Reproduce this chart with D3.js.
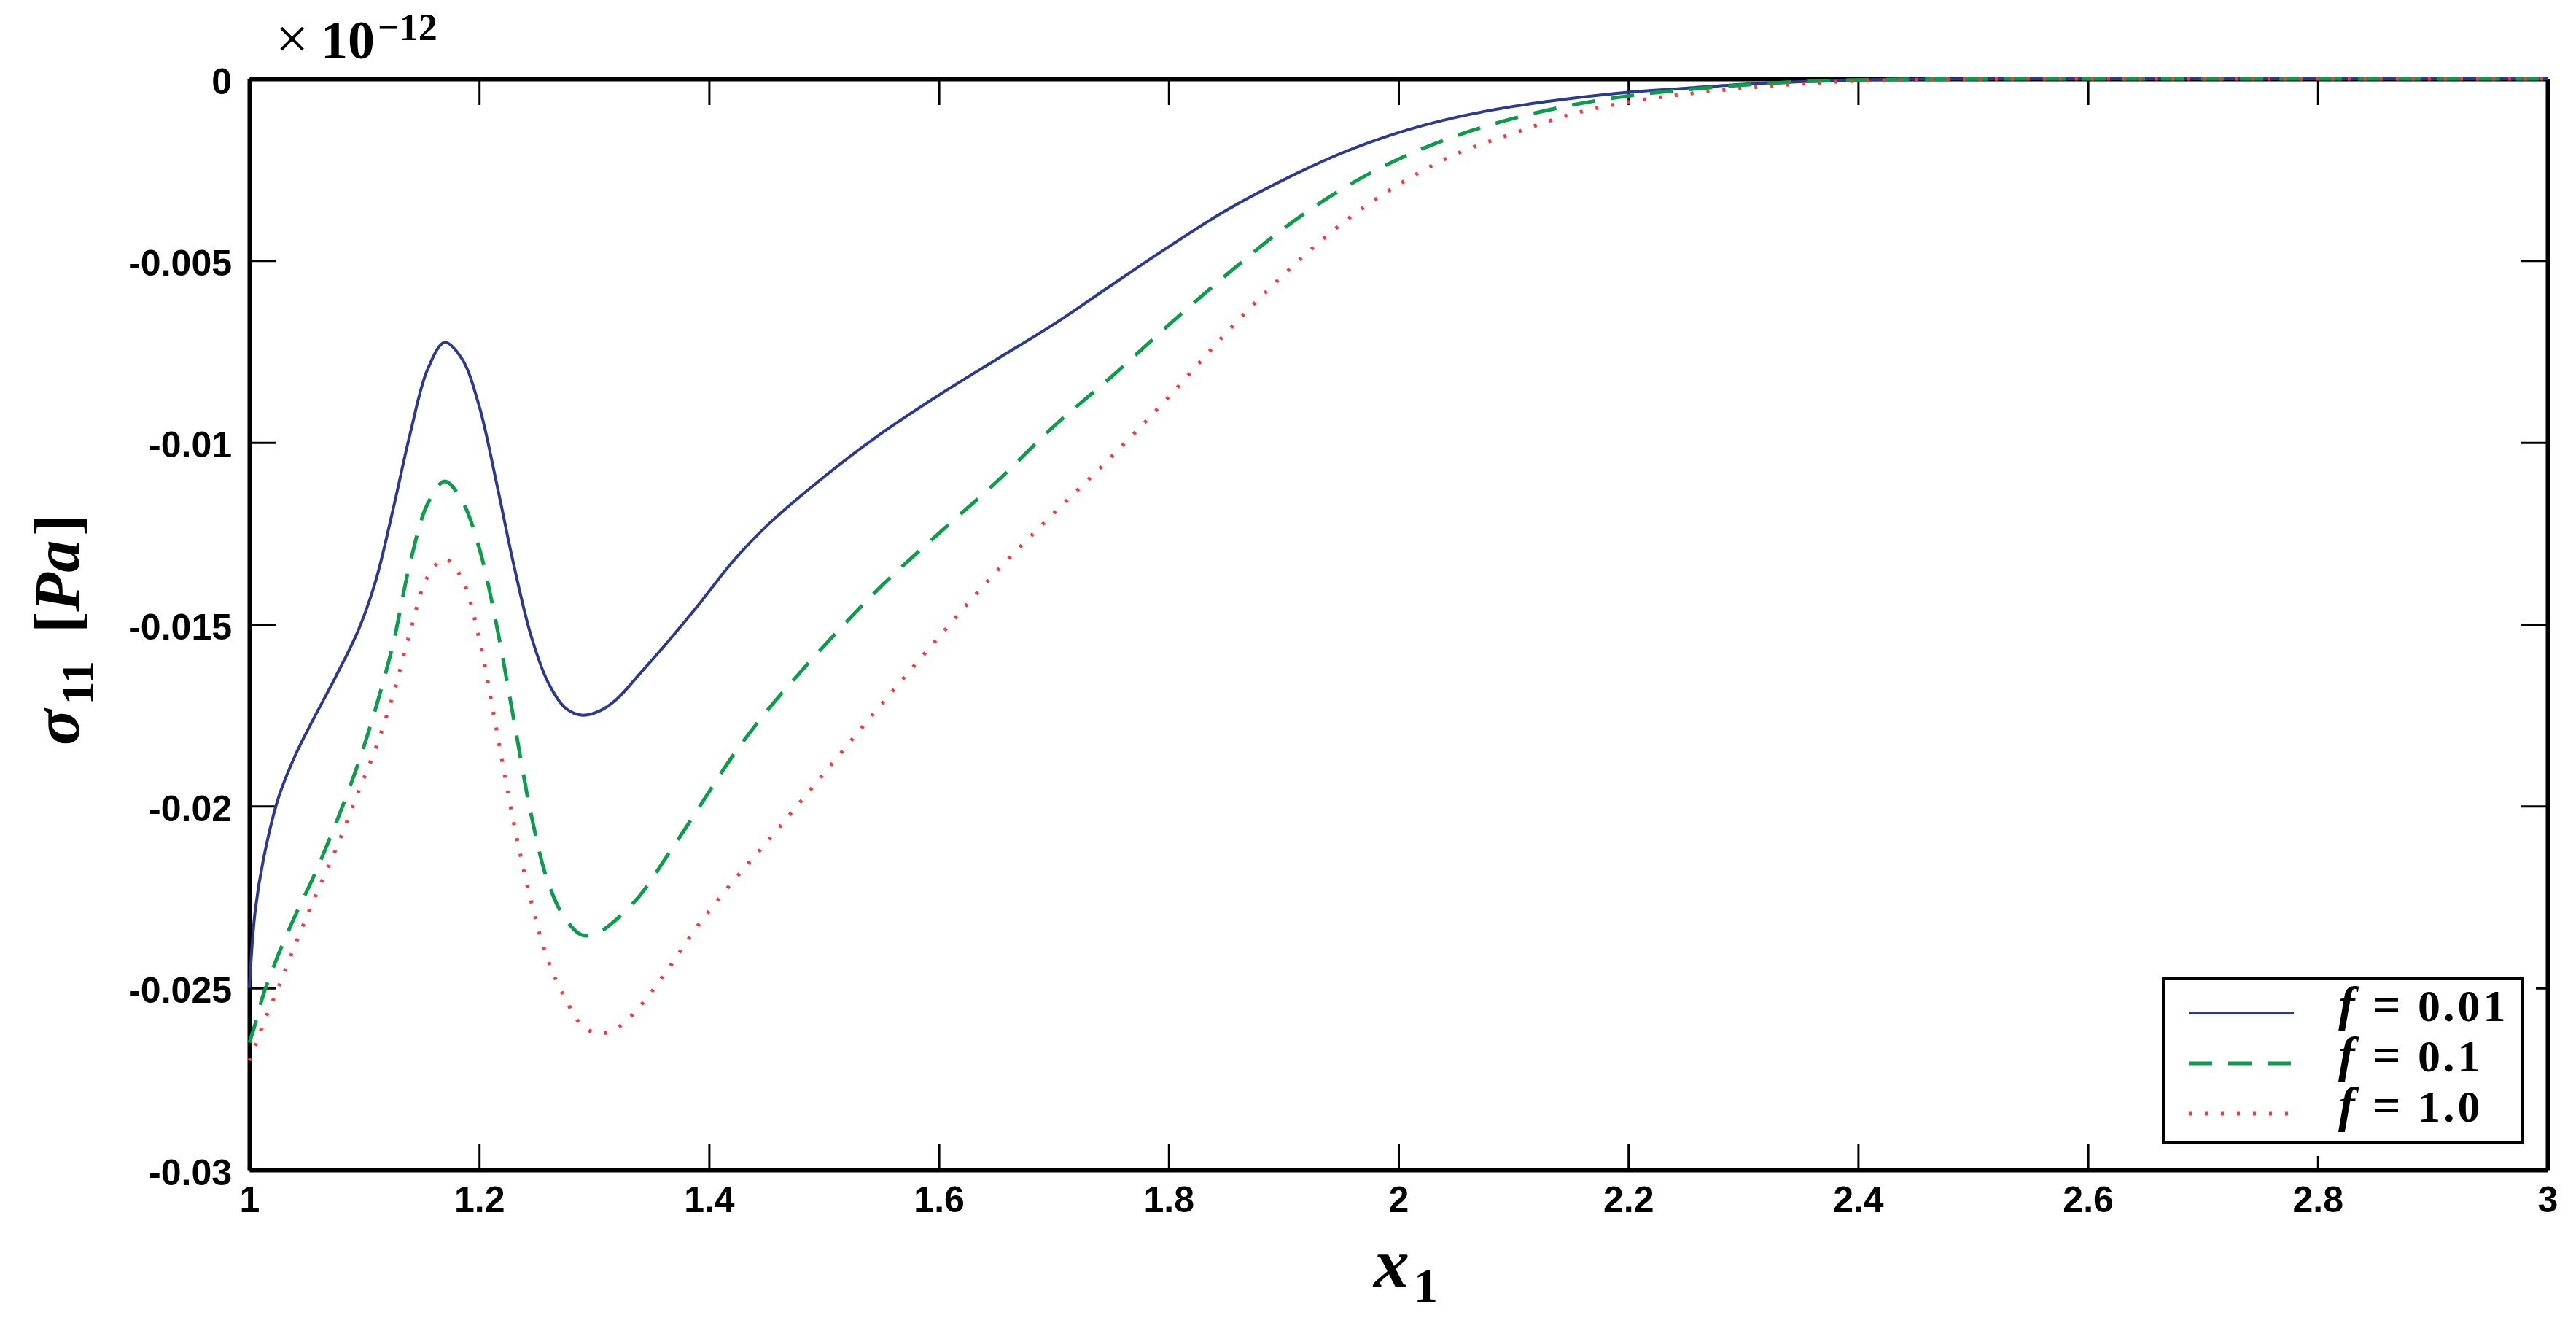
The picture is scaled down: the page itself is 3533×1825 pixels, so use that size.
<!DOCTYPE html>
<html>
<head>
<meta charset="utf-8">
<script src="https://cdn.jsdelivr.net/npm/d3@7/dist/d3.min.js"></script>
<style>
  html, body { margin: 0; padding: 0; background: #fff; }
  svg { display: block; }
</style>
</head>
<body>
<svg id="chart"></svg>
<script>
// x1 sample positions (shared by all three curves)
const xValues = [1.000, 1.005, 1.012, 1.025, 1.04, 1.055, 1.075, 1.095, 1.11, 1.125, 1.14, 1.155, 1.17, 1.185,
  1.2, 1.215, 1.23, 1.245, 1.26, 1.275, 1.29, 1.305, 1.32, 1.34, 1.365, 1.39, 1.42, 1.45, 1.5, 1.55, 1.6,
  1.65, 1.7, 1.75, 1.8, 1.85, 1.9, 1.95, 2.0, 2.05, 2.1, 2.15, 2.2, 2.25, 2.3, 2.35, 2.4, 2.5, 2.6, 2.8, 3.0];

// sigma_11 values, in units of 1e-12 Pa as printed on the axis
const sigmaF001 = [-0.0250, -0.0229, -0.0215, -0.0198, -0.0186, -0.01765, -0.01645, -0.01515, -0.0138, -0.01185,
  -0.00975, -0.0080, -0.00725, -0.0077, -0.0090, -0.0111, -0.01335, -0.0153, -0.0166, -0.0173, -0.0175, -0.01738,
  -0.01705, -0.01635, -0.01545, -0.0145, -0.0133, -0.0123, -0.01095, -0.00975, -0.0087, -0.00772, -0.00675,
  -0.00568, -0.00462, -0.00362, -0.00278, -0.00205, -0.00148, -0.00106, -0.00076, -0.00054, -0.00037, -0.00026,
  -0.00015, -0.00008, -0.00003, -0.000005, 0, 0, 0];

const sigmaF01 = [-0.0265, -0.0260, -0.0252, -0.0241, -0.0230, -0.0220, -0.0205, -0.0188, -0.0173, -0.01555,
  -0.0133, -0.0117, -0.01107, -0.0116, -0.0129, -0.0150, -0.0176, -0.0202, -0.0221, -0.0231, -0.02355, -0.02345,
  -0.0231, -0.02245, -0.0213, -0.0201, -0.01865, -0.0174, -0.0156, -0.01395, -0.0125, -0.01109, -0.00956,
  -0.0082, -0.00677, -0.0054, -0.00412, -0.00305, -0.00221, -0.00157, -0.00109, -0.00073, -0.00047, -0.0003,
  -0.00017, -0.00008, -0.00003, -0.000005, 0, 0, 0];

const sigmaF10 = [-0.0270, -0.0266, -0.0260, -0.0250, -0.0238, -0.02265, -0.0212, -0.0196, -0.0184, -0.01695,
  -0.0152, -0.0137, -0.0132, -0.01375, -0.0154, -0.0179, -0.02045, -0.0226, -0.02425, -0.0253, -0.02605, -0.02625,
  -0.0261, -0.0255, -0.02445, -0.0233, -0.0221, -0.0210, -0.0191, -0.0172, -0.01535, -0.01355, -0.01195,
  -0.0104, -0.00875, -0.00699, -0.00539, -0.0040, -0.00291, -0.00207, -0.0015, -0.00098, -0.00064, -0.00042,
  -0.00026, -0.00014, -0.00006, -0.00001, 0, 0, 0];

const seriesLabels = ["0.01", "0.1", "1.0"];
const xTicks = [1, 1.2, 1.4, 1.6, 1.8, 2, 2.2, 2.4, 2.6, 2.8, 3];
const yTicks = [0, -0.005, -0.01, -0.015, -0.02, -0.025, -0.03];

const width = 3533, height = 1825;
const margin = { top: 108, right: 39, bottom: 221, left: 342 };
const plotW = width - margin.left - margin.right;
const plotH = height - margin.top - margin.bottom;

const series = [
  { label: seriesLabels[0], values: sigmaF001, color: "#2b3a8f", width: 4, dash: null },
  { label: seriesLabels[1], values: sigmaF01, color: "#0c9c4c", width: 5, dash: "32,22" },
  { label: seriesLabels[2], values: sigmaF10, color: "#f23c3c", width: 5, dash: "4,18" }
];

const svg = d3.select("#chart")
  .attr("width", width)
  .attr("height", height)
  .style("font-family", "'Liberation Sans', Arial, sans-serif");

svg.append("rect").attr("width", width).attr("height", height).attr("fill", "#fff");

const g = svg.append("g").attr("transform", `translate(${margin.left},${margin.top})`);

const x = d3.scaleLinear().domain([1, 3]).range([0, plotW]);
const y = d3.scaleLinear().domain([-0.03, 0]).range([plotH, 0]);

const fmt = d => String(+d.toFixed(3));

// Axes, MATLAB style: ticks inside on all four sides
function styleAxis(sel) {
  sel.select(".domain").attr("stroke", "#000").attr("stroke-width", 6);
  sel.selectAll(".tick line").attr("stroke", "#000").attr("stroke-width", 3);
  sel.selectAll(".tick text")
    .attr("fill", "#000")
    .style("font-size", "50px")
    .style("font-weight", "bold");
}

g.append("g")
  .attr("transform", `translate(0,${plotH})`)
  .call(d3.axisBottom(x).tickValues(xTicks).tickFormat(fmt).tickSizeInner(-36).tickSizeOuter(0).tickPadding(22))
  .call(styleAxis)
  .selectAll(".tick text").attr("dy", "0.71em");

g.append("g")
  .call(d3.axisTop(x).tickValues(xTicks).tickFormat("").tickSizeInner(-36).tickSizeOuter(0))
  .call(styleAxis);

g.append("g")
  .call(d3.axisLeft(y).tickValues(yTicks).tickFormat(fmt).tickSizeInner(-36).tickSizeOuter(0).tickPadding(24))
  .call(styleAxis)
  .selectAll(".tick text").attr("dy", "0.4em");

g.append("g")
  .attr("transform", `translate(${plotW},0)`)
  .call(d3.axisRight(y).tickValues(yTicks).tickFormat("").tickSizeInner(-36).tickSizeOuter(0))
  .call(styleAxis);

// Curves
const line = d3.line()
  .x((d, i) => x(xValues[i]))
  .y(d => y(Math.min(d, 0)))
  .curve(d3.curveCatmullRom.alpha(0.5));

series.forEach(s => {
  g.append("path")
    .datum(s.values)
    .attr("d", line)
    .attr("fill", "none")
    .attr("stroke", s.color)
    .attr("stroke-width", s.width)
    .attr("stroke-dasharray", s.dash);
});

// Exponent note
const expo = svg.append("text")
  .attr("y", 80)
  .style("font-family", "'Liberation Serif', 'DejaVu Serif', serif")
  .style("font-weight", "bold")
  .attr("fill", "#000");
expo.append("tspan").attr("x", 378).style("font-size", "80px").style("font-weight", "normal").text("×");
expo.append("tspan").attr("x", 440).style("font-size", "74px").text("10");
expo.append("tspan").attr("x", 518).attr("dy", -25).style("font-size", "52px").text("−12");

// Y axis label
const yLab = svg.append("text")
  .attr("transform", "translate(108,1022) rotate(-90)")
  .style("font-family", "'Liberation Serif', 'DejaVu Serif', serif")
  .style("font-weight", "bold")
  .attr("fill", "#000");
yLab.append("tspan").style("font-size", "92px").style("font-style", "italic").text("σ");
yLab.append("tspan").attr("dx", 6).attr("dy", 20).style("font-size", "64px").text("11");
yLab.append("tspan").attr("dx", 38).attr("dy", -20).style("font-size", "88px").text("[");
yLab.append("tspan").style("font-size", "88px").style("font-style", "italic").text("Pa");
yLab.append("tspan").attr("dx", 6).style("font-size", "88px").text("]");

// X axis label
const xLab = svg.append("text")
  .attr("x", 1884)
  .attr("y", 1765)
  .style("font-family", "'Liberation Serif', 'DejaVu Serif', serif")
  .style("font-weight", "bold")
  .attr("fill", "#000");
xLab.append("tspan").style("font-size", "98px").style("font-style", "italic").text("x");
xLab.append("tspan").attr("dx", 6).attr("dy", 20).style("font-size", "66px").text("1");

// Legend (white margin around the box hides the tick ends, as in the original)
const lg = svg.append("g");
const boxL = 2967, boxR = 3460, boxT = 1342, boxB = 1567;
lg.append("rect")
  .attr("x", boxL - 18).attr("y", boxT - 18)
  .attr("width", boxR - boxL + 36).attr("height", boxB - boxT + 36)
  .attr("fill", "#fff");
lg.append("rect")
  .attr("x", boxL).attr("y", boxT)
  .attr("width", boxR - boxL).attr("height", boxB - boxT)
  .attr("fill", "#fff")
  .attr("stroke", "#000")
  .attr("stroke-width", 4);

series.forEach((s, i) => {
  const cy = 1389 + i * 69;
  lg.append("line")
    .attr("x1", 3002).attr("x2", 3146)
    .attr("y1", cy).attr("y2", cy)
    .attr("stroke", s.color)
    .attr("stroke-width", s.width)
    .attr("stroke-dasharray", s.dash);
  const t = lg.append("text")
    .attr("y", cy + 11)
    .style("font-family", "'Liberation Serif', 'DejaVu Serif', serif")
    .style("font-weight", "bold")
    .style("font-size", "62px")
    .attr("fill", "#000");
  t.append("tspan").attr("x", 3207).style("font-style", "italic").style("font-size", "68px").text("f");
  t.append("tspan").attr("x", 3254).style("font-size", "68px").text("=");
  t.append("tspan").attr("x", 3316).style("letter-spacing", "4px").text(s.label);
});
</script>
</body>
</html>
